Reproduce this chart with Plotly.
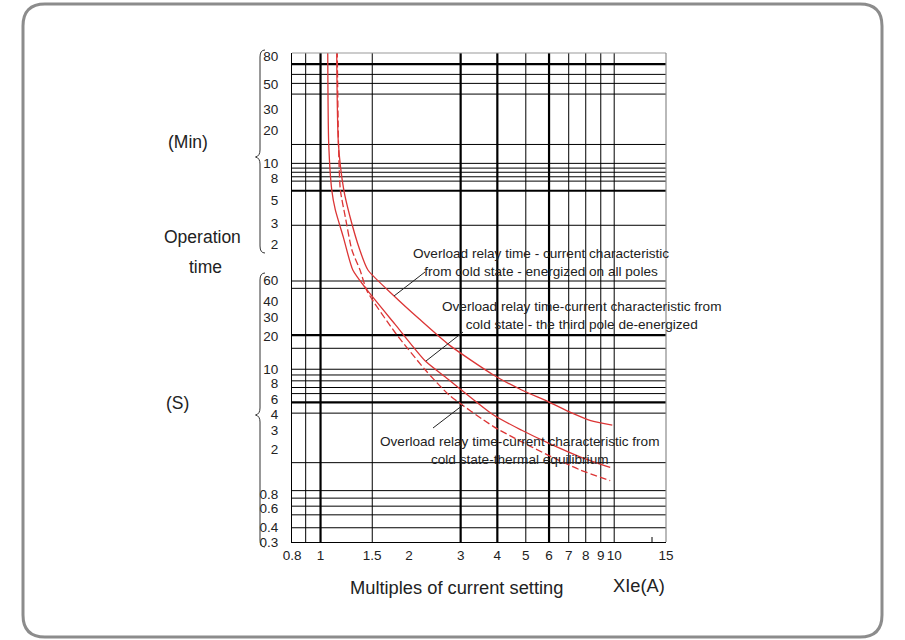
import math
import plotly.graph_objects as go

# ---------------- data ----------------
# x: multiples of current setting, t: operation time in seconds
all_poles_x = [1.135, 1.15, 1.20, 1.26, 1.36, 1.45, 1.78, 2.17, 2.74, 3.88, 4.84, 5.95, 7.13, 8.32, 9.85]
all_poles_t = [6500, 988, 381, 221, 113, 75, 44.3, 27.7, 16.4, 8.9, 6.56, 5.18, 4.14, 3.52, 3.22]

third_pole_x = [1.058, 1.066, 1.092, 1.123, 1.195, 1.288, 1.44, 1.789, 2.275, 2.74, 3.883, 4.826, 5.95, 7.684, 9.69]
third_pole_t = [6500, 988, 381, 254, 147, 75, 50, 25.1, 11.8, 8.04, 3.95, 2.91, 2.24, 1.68, 1.36]

thermal_x = [1.14, 1.152, 1.168, 1.214, 1.279, 1.363, 1.44, 1.789, 2.275, 2.74, 3.883, 4.826, 5.95, 7.684, 9.69]
thermal_t = [6500, 900, 381, 221, 112.6, 75, 49, 21.3, 9.85, 5.93, 3.12, 2.30, 1.75, 1.29, 1.04]

# x tick labels
x_ticks = [0.8, 1, 1.5, 2, 3, 4, 5, 6, 7, 8, 9, 10, 15]
# y tick labels: text and the time (s) at which each label sits in the picture
min_labels = ["80", "50", "30", "20", "10", "8", "5", "3", "2"]
min_label_pos = [5778, 3273, 1970, 1287, 662, 485, 311, 195, 127]
sec_labels = ["60", "40", "30", "20", "10", "8", "6", "4", "3", "2", "0.8", "0.6", "0.4", "0.3"]
sec_label_pos = [60.4, 39.4, 28.7, 19.4, 10.05, 7.49, 5.47, 4.03, 2.91, 1.97, 0.79, 0.59, 0.403, 0.3]

# grid lines as drawn in the picture
grid_x_thin = [0.89, 1.5, 5, 7, 8, 9, 10]
grid_x_thick = [1, 3, 4, 6]
grid_min_thin = [66.4, 55.3, 44.5, 16.0, 10.9, 9.9, 9.1, 8.3, 7.6, 3.1]
grid_min_thick = [81.9, 6.25]
grid_s_thin = [60, 51.7, 15.3, 10, 8.9, 7.9, 6.9, 6.1, 4.1, 1.5, 0.85, 0.73, 0.62, 0.52, 0.40]
grid_s_thick = [20, 5.1]

# ---------------- layout geometry ----------------
W, H = 905, 640
L, R, T, B = 292, 666, 53, 542


def px(xp):
    return (xp - L) / (R - L)


def py(yp):
    return (B - yp) / (B - T)


def path(cmds):
    out = []
    for c in cmds:
        op, pts = c[0], c[1:]
        coords = " ".join(f"{px(pts[i]):.5f},{py(pts[i+1]):.5f}" for i in range(0, len(pts), 2))
        out.append(f"{op} {coords}".strip())
    return " ".join(out)


def fmt(v):
    return str(int(v)) if float(v).is_integer() else str(v)


RED = "#dc3535"
TXT = "#222222"
FONT = "Liberation Sans, Arial, sans-serif"

fig = go.Figure()
fig.add_trace(go.Scatter(x=all_poles_x, y=all_poles_t, mode="lines",
                         line=dict(color=RED, width=1.3, shape="spline", smoothing=0.6),
                         showlegend=False, hoverinfo="skip"))
fig.add_trace(go.Scatter(x=third_pole_x, y=third_pole_t, mode="lines",
                         line=dict(color=RED, width=1.3, shape="spline", smoothing=0.6),
                         showlegend=False, hoverinfo="skip"))
fig.add_trace(go.Scatter(x=thermal_x, y=thermal_t, mode="lines",
                         line=dict(color=RED, width=1.3, shape="spline", smoothing=0.6, dash="7px,3px"),
                         showlegend=False, hoverinfo="skip"))

shapes = []
for v in grid_x_thin:
    shapes.append(dict(type="line", xref="x", yref="paper", x0=v, x1=v, y0=0, y1=1,
                       line=dict(color="black", width=1), layer="below"))
for v in grid_x_thick:
    shapes.append(dict(type="line", xref="x", yref="paper", x0=v, x1=v, y0=0, y1=1,
                       line=dict(color="black", width=2.2), layer="below"))
for v in grid_min_thin:
    shapes.append(dict(type="line", xref="paper", yref="y", x0=0, x1=1, y0=v * 60, y1=v * 60,
                       line=dict(color="black", width=1), layer="below"))
for v in grid_min_thick:
    shapes.append(dict(type="line", xref="paper", yref="y", x0=0, x1=1, y0=v * 60, y1=v * 60,
                       line=dict(color="black", width=2.2), layer="below"))
for v in grid_s_thin:
    shapes.append(dict(type="line", xref="paper", yref="y", x0=0, x1=1, y0=v, y1=v,
                       line=dict(color="black", width=1), layer="below"))
for v in grid_s_thick:
    shapes.append(dict(type="line", xref="paper", yref="y", x0=0, x1=1, y0=v, y1=v,
                       line=dict(color="black", width=2.2), layer="below"))

# top and right borders (grey)
shapes.append(dict(type="line", xref="paper", yref="paper", x0=0, x1=1, y0=1, y1=1,
                   line=dict(color="#9a9a9a", width=1.2)))
shapes.append(dict(type="line", xref="paper", yref="paper", x0=1, x1=1, y0=0, y1=1,
                   line=dict(color="#8a8a8a", width=1.2)))

# braces
brace_style = dict(type="path", xref="paper", yref="paper", line=dict(color="#333333", width=1))
shapes.append(dict(brace_style, path=path([
    ("M", 265, 50), ("Q", 260, 50, 260, 57), ("L", 260, 150), ("Q", 260, 156, 255.5, 157),
    ("Q", 260, 158, 260, 164), ("L", 260, 246), ("Q", 260, 253, 265, 253)])))
shapes.append(dict(brace_style, path=path([
    ("M", 265, 273), ("Q", 260, 273, 260, 280), ("L", 260, 408), ("Q", 260, 414, 255.5, 415),
    ("Q", 260, 416, 260, 422), ("L", 260, 540), ("Q", 260, 547, 265, 547)])))

# leader lines
for (x0, y0, x1, y1) in [(394, 296, 425, 272), (426, 361, 463, 332), (463, 405, 433, 428)]:
    shapes.append(dict(type="line", xref="paper", yref="paper", x0=px(x0), y0=py(y0), x1=px(x1), y1=py(y1),
                       line=dict(color="#222222", width=1)))

# small tick near the right end of the x axis
shapes.append(dict(type="line", xref="paper", yref="paper", x0=px(652), x1=px(652), y0=py(542), y1=py(537),
                   line=dict(color="black", width=1)))

# rounded frame
fx0, fy0, fx1, fy1, r = 23, 4, 882, 637, 22
shapes.append(dict(type="path", xref="paper", yref="paper", line=dict(color="#8c8c8c", width=3),
                   path=path([("M", fx0 + r, fy0), ("L", fx1 - r, fy0), ("Q", fx1, fy0, fx1, fy0 + r),
                              ("L", fx1, fy1 - r), ("Q", fx1, fy1, fx1 - r, fy1),
                              ("L", fx0 + r, fy1), ("Q", fx0, fy1, fx0, fy1 - r),
                              ("L", fx0, fy0 + r), ("Q", fx0, fy0, fx0 + r, fy0), ("Z",)])))

annotations = []


def note(text, xp, yp, size=13.6, xanchor="center", align="center"):
    annotations.append(dict(text=text, x=px(xp), y=py(yp), xref="paper", yref="paper",
                            xanchor=xanchor, yanchor="middle", align=align, showarrow=False,
                            font=dict(family=FONT, size=size, color=TXT)))


note("Overload relay time - current characteristic<br>from cold state - energized on all poles", 541, 262.5)
note("Overload relay time-current characteristic from<br>cold state - the third pole de-energized", 582, 316)
note("Overload relay time-current characteristic from<br>cold state-thermal equilibrium", 520, 450)
note("(Min)", 188, 142, size=17.5)
note("Operation", 202, 237, size=17.5)
note("time", 205, 267, size=17.5)
note("(S)", 177.5, 403, size=17.5)
note("Multiples of current setting", 456, 587, size=18.3)
note("XIe(A)", 639, 585, size=18.3)

y_vals = min_label_pos + sec_label_pos
y_text = min_labels + sec_labels

fig.update_layout(
    width=W, height=H,
    margin=dict(l=L, r=W - R, t=T, b=H - B, pad=0),
    paper_bgcolor="white", plot_bgcolor="white",
    shapes=shapes, annotations=annotations,
    font=dict(family=FONT, color=TXT),
    xaxis=dict(type="log", range=[math.log10(0.7995), math.log10(15.01)],
               tickvals=x_ticks, ticktext=[fmt(v) for v in x_ticks], tickangle=0,
               showgrid=False, zeroline=False, showline=True, linecolor="black", linewidth=1.2,
               ticks="", ticklabelstandoff=1, tickfont=dict(size=13.5, color=TXT, family=FONT),
               automargin=False, fixedrange=True),
    yaxis=dict(type="log", range=[math.log10(0.2995), math.log10(6150)],
               tickvals=y_vals, ticktext=y_text,
               showgrid=False, zeroline=False, showline=True, linecolor="black", linewidth=1.2,
               ticks="", ticklabelstandoff=10, tickfont=dict(size=13.5, color=TXT, family=FONT),
               automargin=False, fixedrange=True),
)

fig.write_html("out.html", config={"displayModeBar": False},
               post_script="document.body.style.margin='0px';")
